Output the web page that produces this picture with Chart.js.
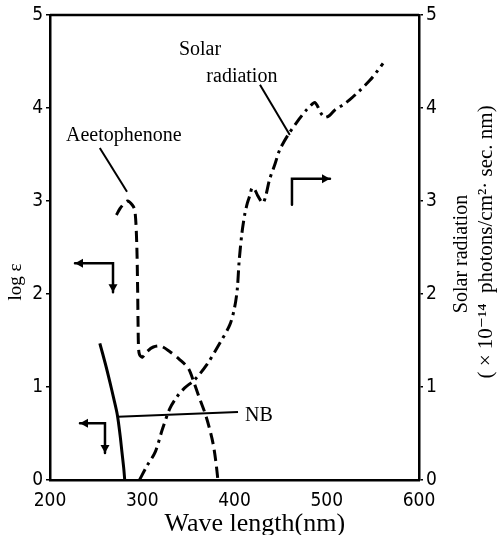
<!DOCTYPE html>
<html>
<head>
<meta charset="utf-8">
<script src="https://cdn.jsdelivr.net/npm/chart.js@4.4.0/dist/chart.umd.min.js"></script>
<style>
  html, body { margin: 0; padding: 0; background: #fff; }
</style>
</head>
<body>
<canvas id="uv-chart" width="499" height="535"></canvas>
<script>
// wavelengths (nm) and values
const nbNm = [254, 260, 265, 269, 273, 276, 278, 280, 281];
const nbLogE = [1.47, 1.25, 1.05, 0.88, 0.70, 0.48, 0.30, 0.12, 0];

const acetoNm = [272, 276, 280, 284, 289, 292, 294, 295, 295.5, 296, 297, 300, 305, 312, 320, 330, 340, 350, 356, 362, 368, 373, 377, 380, 382];
const acetoLogE = [2.85, 2.92, 2.97, 3.00, 2.96, 2.90, 2.55, 2.05, 1.65, 1.42, 1.35, 1.32, 1.38, 1.43, 1.44, 1.38, 1.30, 1.20, 1.05, 0.88, 0.72, 0.55, 0.38, 0.18, 0];

const solarNm = [297, 305, 314, 322, 330, 338, 346, 357, 370, 384, 395, 400, 403, 405, 408, 411, 414, 417, 419, 422, 425, 428, 431, 434, 438, 444, 449, 458, 470, 478, 484, 487, 490, 494, 498, 503, 509, 517, 525, 536, 547, 555, 561];
const solarVal = [0, 0.15, 0.30, 0.55, 0.77, 0.90, 0.99, 1.08, 1.24, 1.47, 1.67, 1.85, 2.05, 2.35, 2.65, 2.85, 2.98, 3.07, 3.14, 3.12, 3.06, 3.01, 2.98, 3.06, 3.23, 3.40, 3.55, 3.71, 3.88, 3.98, 4.04, 4.06, 4.02, 3.94, 3.90, 3.92, 3.98, 4.03, 4.09, 4.19, 4.30, 4.40, 4.48];

const xTicks = [200, 300, 400, 500, 600];
const yTicks = [0, 1, 2, 3, 4, 5];

const toPoints = (xs, ys) => xs.map((x, i) => ({ x: x, y: ys[i] }));

// annotation placement, in data units (nm, left axis value)
const notes = [
  { text: 'Solar', nm: 362.6, v: 4.63, align: 'center' },
  { text: 'radiation', nm: 408, v: 4.34, align: 'center' },
  { text: 'Aeetophenone', nm: 280, v: 3.70, align: 'center' },
  { text: 'NB', nm: 411.4, v: 0.69, align: 'left' }
];
const leaders = [
  [[427.6, 4.25], [460, 3.71]],
  [[254, 3.57], [283.5, 3.10]],
  [[273.7, 0.68], [403.8, 0.73]]
];
const arrows = [
  { pts: [[227.1, 2.33], [268.3, 2.33], [268.3, 2.02]], headStart: true, headEnd: true },
  { pts: [[232.5, 0.61], [259.6, 0.61], [259.6, 0.29]], headStart: true, headEnd: true },
  { pts: [[462.3, 2.96], [462.3, 3.24], [503.5, 3.24]], headStart: false, headEnd: true }
];

const serif = '"Liberation Serif", "DejaVu Serif", serif';
const tickFont = { family: '"Liberation Sans Narrow", "DejaVu Sans Condensed", "Liberation Serif", serif', size: 19 };

function arrowHead(ctx, fromX, fromY, toX, toY) {
  const a = Math.atan2(toY - fromY, toX - fromX);
  const len = 8, w = 4.5;
  ctx.beginPath();
  ctx.moveTo(toX, toY);
  ctx.lineTo(toX - len * Math.cos(a) + w * Math.sin(a), toY - len * Math.sin(a) - w * Math.cos(a));
  ctx.lineTo(toX - len * Math.cos(a) - w * Math.sin(a), toY - len * Math.sin(a) + w * Math.cos(a));
  ctx.closePath();
  ctx.fill();
}

const figureExtras = {
  id: 'figureExtras',
  afterDraw(chart) {
    const ctx = chart.ctx;
    const xs = chart.scales.x, ys = chart.scales.y;
    const area = chart.chartArea;
    const px = n => xs.getPixelForValue(n);
    const py = v => ys.getPixelForValue(v);

    ctx.save();
    ctx.strokeStyle = '#000';
    ctx.fillStyle = '#000';

    // top edge of the frame
    ctx.lineWidth = 2.5;
    ctx.beginPath();
    ctx.moveTo(area.left, area.top);
    ctx.lineTo(area.right, area.top);
    ctx.stroke();

    // leader lines
    ctx.lineWidth = 2;
    leaders.forEach(l => {
      ctx.beginPath();
      ctx.moveTo(px(l[0][0]), py(l[0][1]));
      ctx.lineTo(px(l[1][0]), py(l[1][1]));
      ctx.stroke();
    });

    // axis-direction arrows
    ctx.lineWidth = 2.5;
    ctx.lineCap = 'round';
    arrows.forEach(ar => {
      const p = ar.pts.map(q => [px(q[0]), py(q[1])]);
      ctx.beginPath();
      ctx.moveTo(p[0][0], p[0][1]);
      for (let i = 1; i < p.length; i++) ctx.lineTo(p[i][0], p[i][1]);
      ctx.stroke();
      if (ar.headStart) arrowHead(ctx, p[1][0], p[1][1], p[0][0], p[0][1]);
      if (ar.headEnd) arrowHead(ctx, p[p.length - 2][0], p[p.length - 2][1], p[p.length - 1][0], p[p.length - 1][1]);
    });

    // curve labels
    ctx.font = '20px ' + serif;
    ctx.textBaseline = 'middle';
    notes.forEach(n => {
      ctx.textAlign = n.align;
      ctx.fillText(n.text, px(n.nm), py(n.v));
    });

    // axis titles
    ctx.textAlign = 'center';
    ctx.font = '26px ' + serif;
    ctx.fillText('Wave length(nm)', px(422), area.bottom + 44);

    ctx.save();
    ctx.translate(16, py(2.13));
    ctx.rotate(-Math.PI / 2);
    ctx.font = '19px ' + serif;
    ctx.fillText('log ε', 0, 0);
    ctx.restore();

    ctx.save();
    ctx.translate(462, py(2.43));
    ctx.rotate(-Math.PI / 2);
    ctx.font = '20px ' + serif;
    ctx.fillText('Solar radiation', 0, 0);
    ctx.restore();

    ctx.save();
    ctx.translate(486, py(2.56));
    ctx.rotate(-Math.PI / 2);
    ctx.font = '21px ' + serif;
    ctx.fillText('( \u00d7 10\u207b\u00b9\u2074  photons/cm\u00b2\u00b7 sec. nm)', 0, 0);
    ctx.restore();

    ctx.restore();
  }
};

const yAxisBase = (pos, w) => ({
  type: 'linear',
  position: pos,
  min: 0,
  max: 5,
  afterBuildTicks: s => { s.ticks = yTicks.map(v => ({ value: v })); },
  afterFit: s => { s.width = w; },
  ticks: { color: '#000', font: tickFont, padding: 3 },
  grid: { display: true, drawOnChartArea: false, drawTicks: true, tickLength: 4, color: '#000', lineWidth: 1.5 },
  border: { display: true, color: '#000', width: 2.5 }
});

new Chart(document.getElementById('uv-chart'), {
  type: 'line',
  data: {
    datasets: [
      {
        label: 'NB',
        data: toPoints(nbNm, nbLogE),
        yAxisID: 'y',
        borderColor: '#000',
        borderWidth: 3,
        pointRadius: 0,
        tension: 0.3
      },
      {
        label: 'Acetophenone',
        data: toPoints(acetoNm, acetoLogE),
        yAxisID: 'y',
        borderColor: '#000',
        borderWidth: 3,
        borderDash: [11, 6],
        pointRadius: 0,
        tension: 0.3
      },
      {
        label: 'Solar radiation',
        data: toPoints(solarNm, solarVal),
        yAxisID: 'ySolar',
        borderColor: '#000',
        borderWidth: 3,
        borderDash: [12, 5, 3, 5],
        pointRadius: 0,
        tension: 0.3
      }
    ]
  },
  options: {
    responsive: false,
    animation: false,
    devicePixelRatio: 1,
    layout: { padding: { top: 15, left: 0, right: 0, bottom: 0 } },
    plugins: { legend: { display: false }, tooltip: { enabled: false } },
    scales: {
      x: {
        type: 'linear',
        min: 200,
        max: 600,
        afterBuildTicks: s => { s.ticks = xTicks.map(v => ({ value: v })); },
        afterFit: s => { s.height = 55; },
        ticks: { color: '#000', font: tickFont, padding: 2, maxRotation: 0 },
        grid: { display: false },
        border: { display: true, color: '#000', width: 2.5 }
      },
      y: yAxisBase('left', 50),
      ySolar: yAxisBase('right', 80)
    }
  },
  plugins: [figureExtras]
});
</script>
</body>
</html>
